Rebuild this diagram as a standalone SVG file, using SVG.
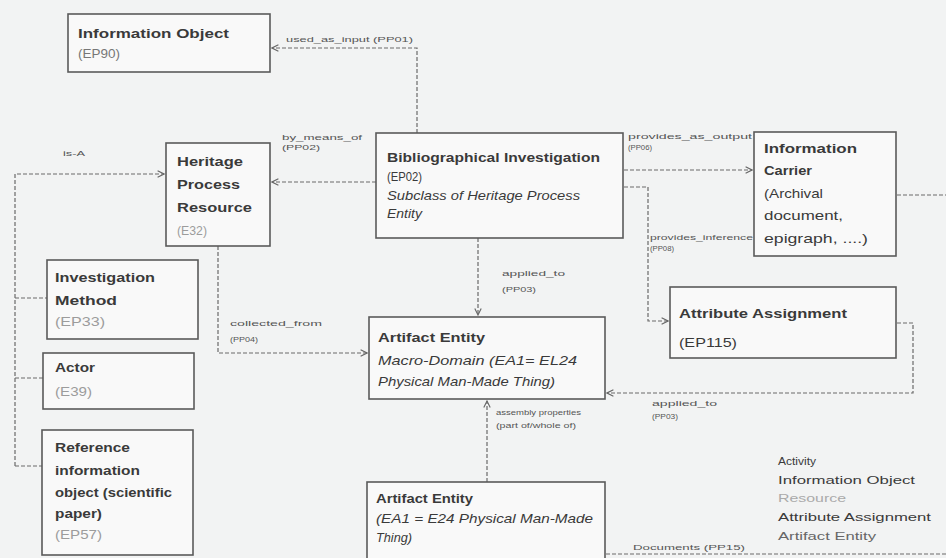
<svg xmlns="http://www.w3.org/2000/svg" width="946" height="558" viewBox="0 0 946 558">
<defs>
<style>
.bg{fill:#f2f3f3}
.box{fill:#f9f9f9;stroke:#5a5a5a;stroke-width:1.6}
.t{font-family:"Liberation Sans",Arial,sans-serif;font-size:13px;fill:#3a3a3a}
.lg{font-family:"Liberation Sans",Arial,sans-serif;font-size:11px;fill:#3a3a3a}
.b{font-weight:bold}
.i{font-style:italic}
.id{fill:#9c9c9c}
.lab{font-family:"Liberation Sans",Arial,sans-serif;font-size:8px;fill:#555}
.con{fill:none;stroke:#6a6a6a;stroke-width:1.2;stroke-dasharray:4,2}
</style>
<marker id="arr" viewBox="0 0 10 10" refX="9" refY="5" markerWidth="8" markerHeight="8" orient="auto" markerUnits="userSpaceOnUse">
<path d="M1,1 L9,5 L1,9" fill="none" stroke="#666" stroke-width="1.4"/>
</marker>
</defs>
<rect class="bg" x="0" y="0" width="946" height="558"/>

<g id="connectors">
<path class="con" d="M417,133 V48 H272" marker-end="url(#arr)"/>
<text class="lab" x="286" y="42" textLength="127" lengthAdjust="spacingAndGlyphs">used_as_input (PP01)</text>
<path class="con" d="M376,182 H272" marker-end="url(#arr)"/>
<text class="lab" x="282" y="140" textLength="80" lengthAdjust="spacingAndGlyphs">by_means_of</text>
<text class="lab" x="282" y="150" textLength="38" lengthAdjust="spacingAndGlyphs">(PP02)</text>
<path class="con" d="M624,170 H752" marker-end="url(#arr)"/>
<text class="lab" x="628" y="139" textLength="124" lengthAdjust="spacingAndGlyphs">provides_as_output</text>
<text class="lab" x="628" y="150" textLength="24" lengthAdjust="spacingAndGlyphs">(PP06)</text>
<path class="con" d="M624,187 H648 V321 H668" marker-end="url(#arr)"/>
<text class="lab" x="650" y="240" textLength="103" lengthAdjust="spacingAndGlyphs">provides_inference</text>
<text class="lab" x="650" y="251" textLength="24" lengthAdjust="spacingAndGlyphs">(PP08)</text>
<path class="con" d="M478,238 V315" marker-end="url(#arr)"/>
<text class="lab" x="502" y="276" textLength="63" lengthAdjust="spacingAndGlyphs">applied_to</text>
<text class="lab" x="502" y="292" textLength="34" lengthAdjust="spacingAndGlyphs">(PP03)</text>
<path class="con" d="M218,246 V353 H367" marker-end="url(#arr)"/>
<text class="lab" x="230" y="326" textLength="92" lengthAdjust="spacingAndGlyphs">collected_from</text>
<text class="lab" x="230" y="342" textLength="28" lengthAdjust="spacingAndGlyphs">(PP04)</text>
<path class="con" d="M897,323 H913 V393 H607" marker-end="url(#arr)"/>
<text class="lab" x="652" y="406" textLength="65" lengthAdjust="spacingAndGlyphs">applied_to</text>
<text class="lab" x="652" y="419" textLength="26" lengthAdjust="spacingAndGlyphs">(PP03)</text>
<path class="con" d="M487,482 V401" marker-end="url(#arr)"/>
<text class="lab" x="496" y="415" textLength="85" lengthAdjust="spacingAndGlyphs">assembly properties</text>
<text class="lab" x="496" y="428" textLength="80" lengthAdjust="spacingAndGlyphs">(part of/whole of)</text>
<path class="con" d="M15,466 V174 H164" marker-end="url(#arr)"/>
<path class="con" d="M15,298 H47 M15,378 H43 M15,466 H42"/>
<text class="lab" x="63" y="156" textLength="22" lengthAdjust="spacingAndGlyphs">is-A</text>
<path class="con" d="M897,195 H946"/>
<path class="con" d="M946,554 H606"/>
<text class="lab" x="633" y="550" textLength="112" lengthAdjust="spacingAndGlyphs">Documents (PP15)</text>
</g>

<g id="information_object">
<rect class="box" x="68" y="14" width="202" height="58"/>
<text class="t b" x="78" y="38" textLength="151" lengthAdjust="spacingAndGlyphs">Information Object</text>
<text class="t" x="78" y="58" textLength="42" lengthAdjust="spacingAndGlyphs" style="fill:#777">(EP90)</text>
</g>

<g id="heritage_process_resource">
<rect class="box" x="166" y="143" width="104" height="103"/>
<text class="t b" x="177" y="166" textLength="66" lengthAdjust="spacingAndGlyphs">Heritage</text>
<text class="t b" x="177" y="189" textLength="63" lengthAdjust="spacingAndGlyphs">Process</text>
<text class="t b" x="177" y="212" textLength="75" lengthAdjust="spacingAndGlyphs">Resource</text>
<text class="t id" x="177" y="235" textLength="30" lengthAdjust="spacingAndGlyphs">(E32)</text>
</g>

<g id="bibliographical_investigation">
<rect class="box" x="376" y="133" width="247" height="105"/>
<text class="t b" x="387" y="162" textLength="213" lengthAdjust="spacingAndGlyphs">Bibliographical Investigation</text>
<text class="t" x="387" y="181" textLength="35" lengthAdjust="spacingAndGlyphs">(EP02)</text>
<text class="t i" x="387" y="200" textLength="193" lengthAdjust="spacingAndGlyphs">Subclass of Heritage Process</text>
<text class="t i" x="387" y="218" textLength="35" lengthAdjust="spacingAndGlyphs">Entity</text>
</g>

<g id="information_carrier">
<rect class="box" x="754" y="132" width="142" height="124"/>
<text class="t b" x="764" y="153" textLength="93" lengthAdjust="spacingAndGlyphs">Information</text>
<text class="t b" x="764" y="175" textLength="48" lengthAdjust="spacingAndGlyphs">Carrier</text>
<text class="t" x="764" y="198" textLength="59" lengthAdjust="spacingAndGlyphs">(Archival</text>
<text class="t" x="764" y="220" textLength="79" lengthAdjust="spacingAndGlyphs">document,</text>
<text class="t" x="764" y="243" textLength="104" lengthAdjust="spacingAndGlyphs">epigraph, ....)</text>
</g>

<g id="attribute_assignment">
<rect class="box" x="670" y="287" width="226" height="71"/>
<text class="t b" x="679" y="318" textLength="168" lengthAdjust="spacingAndGlyphs">Attribute Assignment</text>
<text class="t" x="679" y="347" textLength="58" lengthAdjust="spacingAndGlyphs">(EP115)</text>
</g>

<g id="artifact_entity_macro">
<rect class="box" x="369" y="317" width="236" height="82"/>
<text class="t b" x="378" y="342" textLength="107" lengthAdjust="spacingAndGlyphs">Artifact Entity</text>
<text class="t i" x="378" y="365" textLength="199" lengthAdjust="spacingAndGlyphs">Macro-Domain (EA1= EL24</text>
<text class="t i" x="378" y="386" textLength="177" lengthAdjust="spacingAndGlyphs">Physical Man-Made Thing)</text>
</g>

<g id="artifact_entity">
<rect class="box" x="367" y="482" width="238" height="80"/>
<text class="t b" x="376" y="503" textLength="97" lengthAdjust="spacingAndGlyphs">Artifact Entity</text>
<text class="t i" x="376" y="523" textLength="217" lengthAdjust="spacingAndGlyphs">(EA1 = E24 Physical Man-Made</text>
<text class="t i" x="376" y="542" textLength="36" lengthAdjust="spacingAndGlyphs">Thing)</text>
</g>

<g id="investigation_method">
<rect class="box" x="47" y="260" width="151" height="79"/>
<text class="t b" x="55" y="282" textLength="100" lengthAdjust="spacingAndGlyphs">Investigation</text>
<text class="t b" x="55" y="305" textLength="62" lengthAdjust="spacingAndGlyphs">Method</text>
<text class="t id" x="55" y="326" textLength="50" lengthAdjust="spacingAndGlyphs">(EP33)</text>
</g>

<g id="actor">
<rect class="box" x="43" y="353" width="151" height="56"/>
<text class="t b" x="55" y="372" textLength="40" lengthAdjust="spacingAndGlyphs">Actor</text>
<text class="t id" x="55" y="396" textLength="37" lengthAdjust="spacingAndGlyphs">(E39)</text>
</g>

<g id="reference_information_object">
<rect class="box" x="42" y="430" width="151" height="125"/>
<text class="t b" x="55" y="452" textLength="75" lengthAdjust="spacingAndGlyphs">Reference</text>
<text class="t b" x="55" y="475" textLength="85" lengthAdjust="spacingAndGlyphs">information</text>
<text class="t b" x="55" y="497" textLength="117" lengthAdjust="spacingAndGlyphs">object (scientific</text>
<text class="t b" x="55" y="518" textLength="47" lengthAdjust="spacingAndGlyphs">paper)</text>
<text class="t id" x="55" y="539" textLength="47" lengthAdjust="spacingAndGlyphs">(EP57)</text>
</g>

<g id="legend">
<text class="lg" x="778" y="465" textLength="38" lengthAdjust="spacingAndGlyphs">Activity</text>
<text class="lg" x="778" y="484" textLength="137" lengthAdjust="spacingAndGlyphs">Information Object</text>
<text class="lg" x="778" y="502" textLength="68" lengthAdjust="spacingAndGlyphs" style="fill:#aaa">Resource</text>
<text class="lg" x="778" y="521" textLength="153" lengthAdjust="spacingAndGlyphs">Attribute Assignment</text>
<text class="lg" x="778" y="540" textLength="98" lengthAdjust="spacingAndGlyphs" style="fill:#666">Artifact Entity</text>
</g>
</svg>
